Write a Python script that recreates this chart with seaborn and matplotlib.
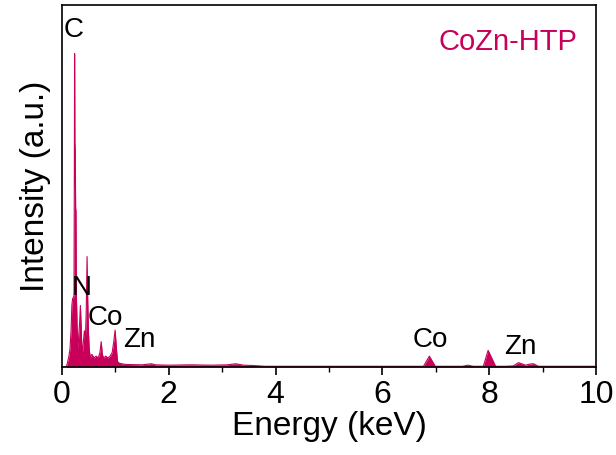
import matplotlib
matplotlib.use("Agg")
import matplotlib.pyplot as plt
import seaborn as sns
import pandas as pd
from matplotlib.ticker import MultipleLocator

# EDS spectrum of CoZn-HTP (energy in keV, intensity in arbitrary units)
energy_kev = [
    0.00, 0.08, 0.10, 0.13, 0.15, 0.17, 0.185, 0.20, 0.215, 0.225,
    0.232, 0.237, 0.242, 0.248, 0.256, 0.262, 0.27, 0.285, 0.30, 0.315,
    0.33, 0.345, 0.355, 0.37, 0.385, 0.40, 0.42, 0.44, 0.455, 0.47,
    0.48, 0.495, 0.51, 0.53, 0.56, 0.60, 0.64, 0.68, 0.71, 0.735,
    0.755, 0.78, 0.82, 0.86, 0.90, 0.94, 0.97, 0.995, 1.02, 1.04,
    1.08, 1.20, 1.50, 1.67, 1.75, 2.00, 2.40, 2.80, 3.10, 3.25,
    3.40, 3.60, 3.80, 5.00, 6.50, 6.77, 6.88, 6.99, 7.20, 7.50,
    7.60, 7.70, 7.89, 7.98, 8.12, 8.30, 8.45, 8.55, 8.68, 8.76,
    8.83, 8.92, 9.20, 10.00,
]
intensity = [
    0.000, 0.000, 0.010, 0.030, 0.050, 0.100, 0.170, 0.190, 0.190, 0.200,
    0.550, 0.866, 0.620, 0.600, 0.440, 0.430, 0.200, 0.100, 0.050, 0.090,
    0.120, 0.170, 0.130, 0.060, 0.040, 0.070, 0.100, 0.080, 0.160, 0.305,
    0.200, 0.100, 0.050, 0.025, 0.035, 0.025, 0.030, 0.025, 0.040, 0.070,
    0.035, 0.025, 0.030, 0.025, 0.030, 0.040, 0.070, 0.102, 0.050, 0.015,
    0.010, 0.007, 0.006, 0.009, 0.006, 0.005, 0.006, 0.005, 0.006, 0.009,
    0.005, 0.004, 0.002, 0.002, 0.002, 0.002, 0.030, 0.002, 0.002, 0.002,
    0.005, 0.002, 0.002, 0.046, 0.002, 0.002, 0.003, 0.012, 0.005, 0.008,
    0.009, 0.002, 0.002, 0.002,
]

# Element annotations: label, energy position, height
peak_labels = ["C", "N", "Co", "Zn", "Co", "Zn"]
label_x = [0.22, 0.37, 0.82, 1.44, 6.89, 8.58]
label_y = [0.93, 0.218, 0.135, 0.075, 0.075, 0.055]

sample_name = "CoZn-HTP"
x_ticks = [0, 2, 4, 6, 8, 10]

spec = pd.DataFrame({"Energy": energy_kev, "Intensity": intensity})
color = "#C8005A"

sns.set_style("ticks")
plt.rcParams["font.family"] = ["Liberation Sans", "DejaVu Sans"]
plt.rcParams["text.color"] = "black"
plt.rcParams["axes.labelcolor"] = "black"
plt.rcParams["xtick.color"] = "black"
plt.rcParams["ytick.color"] = "black"

fig = plt.figure(figsize=(6.16, 4.55), dpi=100)
ax = fig.add_axes([0.1006, 0.1934, 0.8669, 0.7956])

sns.lineplot(data=spec, x="Energy", y="Intensity", color=color,
             linewidth=0.8, ax=ax, estimator=None, sort=False)
ax.fill_between(spec["Energy"], 0, spec["Intensity"], color=color,
                linewidth=0)

ax.set_xlim(0, 10)
ax.set_ylim(0, 1)
ax.set_xticks(x_ticks)
ax.set_xticklabels([str(t) for t in x_ticks])
ax.xaxis.set_minor_locator(MultipleLocator(1))
ax.set_yticks([])

ax.tick_params(axis="x", which="major", direction="out", length=6,
               width=1.2, labelsize=23, pad=3, colors="black")
ax.tick_params(axis="x", which="minor", direction="out", length=3.5,
               width=1.0, colors="black")
for side in ["left", "right", "top", "bottom"]:
    ax.spines[side].set_visible(True)
    ax.spines[side].set_linewidth(1.2)
    ax.spines[side].set_color("black")

ax.set_xlabel("Energy (keV)", fontsize=24, labelpad=1, color="black")
ax.set_ylabel("Intensity (a.u.)", fontsize=24, labelpad=8, color="black")

for lab, lx, ly in zip(peak_labels, label_x, label_y):
    ax.text(lx, ly, lab, fontsize=20, ha="center", va="center",
            color="black")

ax.text(0.835, 0.898, sample_name, transform=ax.transAxes, fontsize=21,
        ha="center", va="center", color=color)

fig.savefig("out.png", dpi=100, facecolor="white")
